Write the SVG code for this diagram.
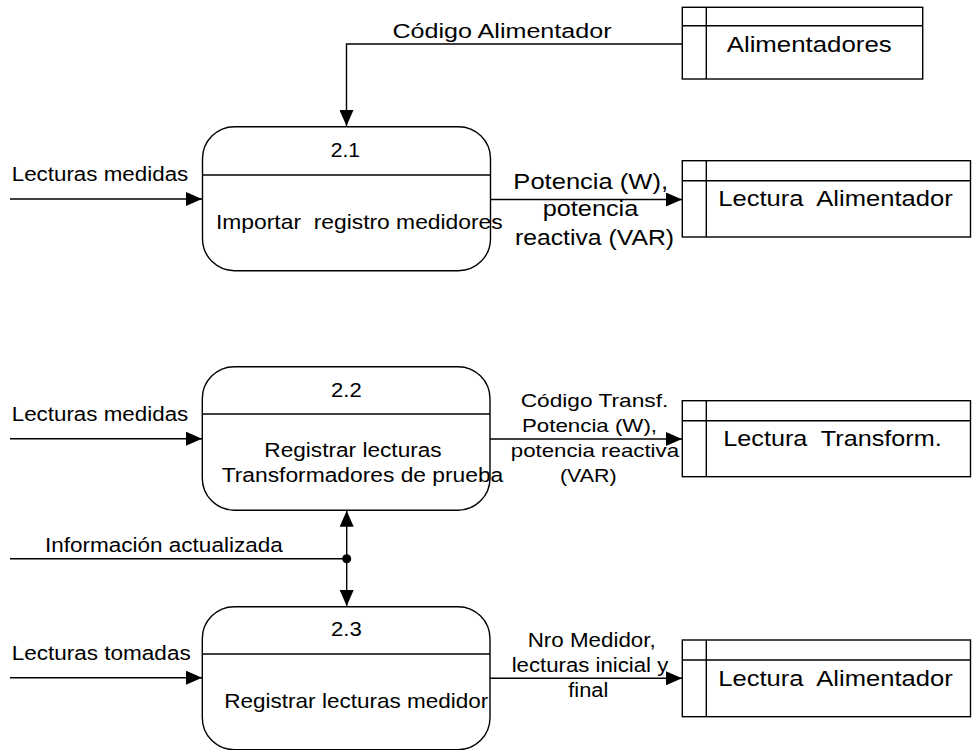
<svg xmlns="http://www.w3.org/2000/svg" width="977" height="750" viewBox="0 0 977 750">
<style>
  text { font-family: "Liberation Sans", Arial, sans-serif; fill: #000; }
  .proc { fill: #fff; stroke: #000; stroke-width: 1.4; }
  .div { stroke: #000; stroke-width: 1.4; fill: none; }
  .store { fill: #fff; stroke: #000; stroke-width: 1.4; }
  .flow { stroke: #000; stroke-width: 1.4; fill: none; }
  .mid { text-anchor: middle; }
</style>
<defs>
  <marker id="arr" viewBox="0 0 16 14" refX="16" refY="7" markerWidth="16" markerHeight="14" markerUnits="userSpaceOnUse" orient="auto-start-reverse">
    <path d="M0,0 L16,7 L0,14 Z" fill="#000"/>
  </marker>
</defs>
<rect width="977" height="750" fill="#fff"/>

<g id="connectors">
  <polyline class="flow" points="682,44 346.5,44 346.5,126" marker-end="url(#arr)"/>
  <text x="502" y="38.3" class="mid" font-size="20" textLength="219" lengthAdjust="spacingAndGlyphs">Código Alimentador</text>

  <line class="flow" x1="10" y1="199" x2="202" y2="199" marker-end="url(#arr)"/>
  <text x="11.7" y="181" font-size="20" textLength="176.6" lengthAdjust="spacingAndGlyphs">Lecturas medidas</text>

  <line class="flow" x1="490.5" y1="199.5" x2="682" y2="199.5" marker-end="url(#arr)"/>
  <text x="590.7" y="189.3" class="mid" font-size="21.5" textLength="154.7" lengthAdjust="spacingAndGlyphs">Potencia (W),</text>
  <text x="590.5" y="216" class="mid" font-size="21.5" textLength="95.6" lengthAdjust="spacingAndGlyphs">potencia</text>
  <text x="594.5" y="245" class="mid" font-size="21.5" textLength="159" lengthAdjust="spacingAndGlyphs">reactiva (VAR)</text>

  <line class="flow" x1="10" y1="438.7" x2="202" y2="438.7" marker-end="url(#arr)"/>
  <text x="11.7" y="421" font-size="20" textLength="176.6" lengthAdjust="spacingAndGlyphs">Lecturas medidas</text>

  <line class="flow" x1="490" y1="439" x2="682" y2="439" marker-end="url(#arr)"/>
  <text x="594.5" y="407.3" class="mid" font-size="19" textLength="147.6" lengthAdjust="spacingAndGlyphs">Código Transf.</text>
  <text x="589.5" y="431.7" class="mid" font-size="19" textLength="135" lengthAdjust="spacingAndGlyphs">Potencia (W),</text>
  <text x="594.9" y="457.3" class="mid" font-size="19" textLength="168.3" lengthAdjust="spacingAndGlyphs">potencia reactiva</text>
  <text x="588.3" y="481.7" class="mid" font-size="19" textLength="56.7" lengthAdjust="spacingAndGlyphs">(VAR)</text>

  <line class="flow" x1="10" y1="558.7" x2="346.7" y2="558.7"/>
  <text x="45" y="551.7" font-size="20.5" textLength="237.7" lengthAdjust="spacingAndGlyphs">Información actualizada</text>
  <line class="flow" x1="346.7" y1="510.7" x2="346.7" y2="606" marker-start="url(#arr)" marker-end="url(#arr)"/>
  <circle cx="346.7" cy="558.7" r="4.5" fill="#000"/>

  <line class="flow" x1="10" y1="677.7" x2="202" y2="677.7" marker-end="url(#arr)"/>
  <text x="11.7" y="660" font-size="20" textLength="179" lengthAdjust="spacingAndGlyphs">Lecturas tomadas</text>

  <line class="flow" x1="490" y1="678.3" x2="682" y2="678.3" marker-end="url(#arr)"/>
  <text x="591.7" y="647.3" class="mid" font-size="19.5" textLength="128" lengthAdjust="spacingAndGlyphs">Nro Medidor,</text>
  <text x="590" y="671.7" class="mid" font-size="19.5" textLength="156.6" lengthAdjust="spacingAndGlyphs">lecturas inicial y</text>
  <text x="588.3" y="696.7" class="mid" font-size="19.5" textLength="40" lengthAdjust="spacingAndGlyphs">final</text>
</g>

<g id="p21">
  <rect class="proc" x="202.5" y="126.7" width="288" height="144" rx="32" ry="32"/>
  <line class="div" x1="202.5" y1="175" x2="490.5" y2="175"/>
  <text x="345.4" y="157.3" class="mid" font-size="20" textLength="29.3" lengthAdjust="spacingAndGlyphs">2.1</text>
  <text x="216" y="229" font-size="21" textLength="286.7" lengthAdjust="spacingAndGlyphs">Importar&#160; registro medidores</text>
</g>

<g id="p22">
  <rect class="proc" x="202.3" y="366.7" width="287.7" height="143.5" rx="32" ry="32"/>
  <line class="div" x1="202.3" y1="414" x2="490" y2="414"/>
  <text x="346.4" y="396.7" class="mid" font-size="20" textLength="30.7" lengthAdjust="spacingAndGlyphs">2.2</text>
  <text x="353" y="456.7" class="mid" font-size="19.5" textLength="177.4" lengthAdjust="spacingAndGlyphs">Registrar lecturas</text>
  <text x="362.5" y="481.7" class="mid" font-size="19.5" textLength="281.6" lengthAdjust="spacingAndGlyphs">Transformadores de prueba</text>
</g>

<g id="p23">
  <rect class="proc" x="202.3" y="606.7" width="287.7" height="143" rx="32" ry="32"/>
  <line class="div" x1="202.3" y1="654" x2="490" y2="654"/>
  <text x="346.4" y="636" class="mid" font-size="20" textLength="30.7" lengthAdjust="spacingAndGlyphs">2.3</text>
  <text x="224.3" y="708.3" font-size="21" textLength="264" lengthAdjust="spacingAndGlyphs">Registrar lecturas medidor</text>
</g>

<g id="s_alimentadores">
  <rect class="store" x="682.3" y="7.3" width="240.4" height="71.7"/>
  <line class="div" x1="682.3" y1="25.7" x2="922.7" y2="25.7"/>
  <line class="div" x1="706.3" y1="7.3" x2="706.3" y2="79"/>
  <text x="726.7" y="51.7" font-size="22" textLength="165" lengthAdjust="spacingAndGlyphs">Alimentadores</text>
</g>

<g id="s_lectura_alim1">
  <rect class="store" x="682.3" y="160.7" width="288.2" height="76.3"/>
  <line class="div" x1="682.3" y1="180.7" x2="970.5" y2="180.7"/>
  <line class="div" x1="706.3" y1="160.7" x2="706.3" y2="237"/>
  <text x="718.3" y="206" font-size="22" textLength="234.4" lengthAdjust="spacingAndGlyphs">Lectura&#160; Alimentador</text>
</g>

<g id="s_lectura_transf">
  <rect class="store" x="682.3" y="400.7" width="288.2" height="76"/>
  <line class="div" x1="682.3" y1="420.7" x2="970.5" y2="420.7"/>
  <line class="div" x1="706.3" y1="400.7" x2="706.3" y2="476.7"/>
  <text x="723.3" y="446" font-size="22" textLength="218.4" lengthAdjust="spacingAndGlyphs">Lectura&#160; Transform.</text>
</g>

<g id="s_lectura_alim2">
  <rect class="store" x="682.3" y="640" width="288.2" height="76.7"/>
  <line class="div" x1="682.3" y1="660" x2="970.5" y2="660"/>
  <line class="div" x1="706.3" y1="640" x2="706.3" y2="716.7"/>
  <text x="718.3" y="686" font-size="22" textLength="234.4" lengthAdjust="spacingAndGlyphs">Lectura&#160; Alimentador</text>
</g>
</svg>
